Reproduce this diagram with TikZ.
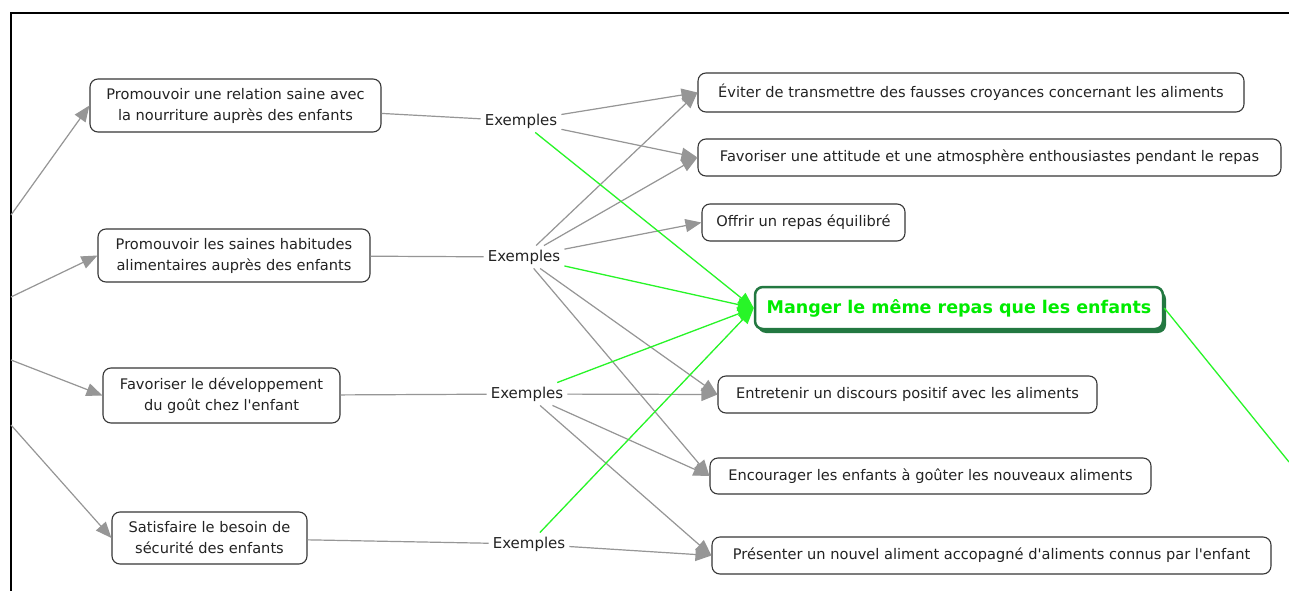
\documentclass[tikz,border=0pt]{standalone}
\usepackage{fontspec}
\setmainfont{DejaVu Sans}
\usetikzlibrary{arrows.meta,shadows}
\definecolor{edgegray}{RGB}{150,150,150}
\definecolor{boxgray}{RGB}{55,55,55}
\definecolor{txtgray}{RGB}{35,35,35}
\definecolor{lgreen}{RGB}{40,245,40}
\definecolor{dgreen}{RGB}{35,120,65}
\definecolor{tgreen}{RGB}{0,235,0}
\begin{document}
\begin{tikzpicture}[x=1pt,y=-1pt,
 concept/.style={draw=boxgray,line width=1.1pt,rounded corners=8pt,fill=white,align=center,
   text=txtgray,font=\fontsize{14.6}{21}\selectfont,inner sep=0pt},
 linkph/.style={text=txtgray,font=\fontsize{15}{17}\selectfont,inner sep=4pt},
 conn/.style={draw=edgegray,line width=1.2pt},
 arr/.style={conn,-{Triangle[length=16pt,width=13pt]},fill=edgegray},
 garr/.style={draw=lgreen,line width=1.3pt,-{Triangle[length=16pt,width=13pt]},fill=lgreen},
 frame/.style={draw=black,line width=2pt}
]
\useasboundingbox (0,0) rectangle (1289,591);
\fill[white] (0,0) rectangle (1289,591);
\draw[frame] (11,591) -- (11,13) -- (1289,13);

% concepts left
\node[concept,minimum width=291pt,minimum height=53pt] (A1) at (235.5,105.5) {Promouvoir une relation saine avec\\la nourriture auprès des enfants};
\node[concept,minimum width=272pt,minimum height=53pt] (A2) at (234,255.5) {Promouvoir les saines habitudes\\alimentaires auprès des enfants};
\node[concept,minimum width=237pt,minimum height=55pt] (A3) at (221.5,395.5) {Favoriser le développement\\du goût chez l\textquotesingle enfant};
\node[concept,minimum width=195pt,minimum height=52pt] (A4) at (209.5,538) {Satisfaire le besoin de\\sécurité des enfants};

% linking phrases
\node[linkph] (E1) at (521,121) {Exemples};
\node[linkph] (E2) at (524,257) {Exemples};
\node[linkph] (E3) at (527,394) {Exemples};
\node[linkph] (E4) at (529,544) {Exemples};

% concepts right
\node[concept,minimum width=546pt,minimum height=39pt] (R1) at (971,92.5) {Éviter de transmettre des fausses croyances concernant les aliments};
\node[concept,minimum width=583pt,minimum height=37pt] (R2) at (989.5,157.5) {Favoriser une attitude et une atmosphère enthousiastes pendant le repas};
\node[concept,minimum width=203pt,minimum height=37pt] (R3) at (803.5,222.5) {Offrir un repas équilibré};
\node[concept,draw=dgreen,line width=2.5pt,minimum width=408pt,minimum height=42pt,
  font=\fontsize{17.5}{20}\selectfont\bfseries,text=tgreen,
  drop shadow={shadow xshift=3pt,shadow yshift=-4pt,fill=dgreen,opacity=1}] (M) at (959,308) {Manger le même repas que les enfants};
\node[concept,minimum width=379pt,minimum height=37pt] (R4) at (907.5,394.5) {Entretenir un discours positif avec les aliments};
\node[concept,minimum width=441pt,minimum height=36pt] (R5) at (930.5,476) {Encourager les enfants à goûter les nouveaux aliments};
\node[concept,minimum width=559pt,minimum height=37pt] (R6) at (991.5,555.5) {Présenter un nouvel aliment accopagné d\textquotesingle aliments connus par l\textquotesingle enfant};

% free ends
\coordinate (s1) at (11,215);
\coordinate (s2) at (11,297);
\coordinate (s3) at (11,360);
\coordinate (s4) at (11,425);
\coordinate (g0) at (1289,462);

% incoming arrows from outside
\draw[arr] (s1) -- (A1.west);
\draw[arr] (s2) -- (A2.west);
\draw[arr] (s3) -- (A3.west);
\draw[arr] (s4) -- (A4.west);

% concept to linking phrase
\draw[conn] (A1) -- (E1);
\draw[conn] (A2) -- (E2);
\draw[conn] (A3) -- (E3);
\draw[conn] (A4) -- (E4);

% gray arrows
\draw[arr] (E1) -- (R1.west);
\draw[arr] (E1) -- (R2.west);
\draw[arr] (E2) -- (R1.west);
\draw[arr] (E2) -- (R2.west);
\draw[arr] (E2) -- (R3.west);
\draw[arr] (E2) -- (R4.west);
\draw[arr] (E2) -- (R5.west);
\draw[arr] (E3) -- (R4.west);
\draw[arr] (E3) -- (R5.west);
\draw[arr] (E3) -- (R6.west);
\draw[arr] (E4) -- (R6.west);

% green arrows
\draw[garr] (E1) -- (M.west);
\draw[garr] (E2) -- (M.west);
\draw[garr] (E3) -- (M.west);
\draw[garr] (E4) -- (M.west);
\draw[draw=lgreen,line width=1.3pt] (M.east) -- (g0);
\end{tikzpicture}
\end{document}
